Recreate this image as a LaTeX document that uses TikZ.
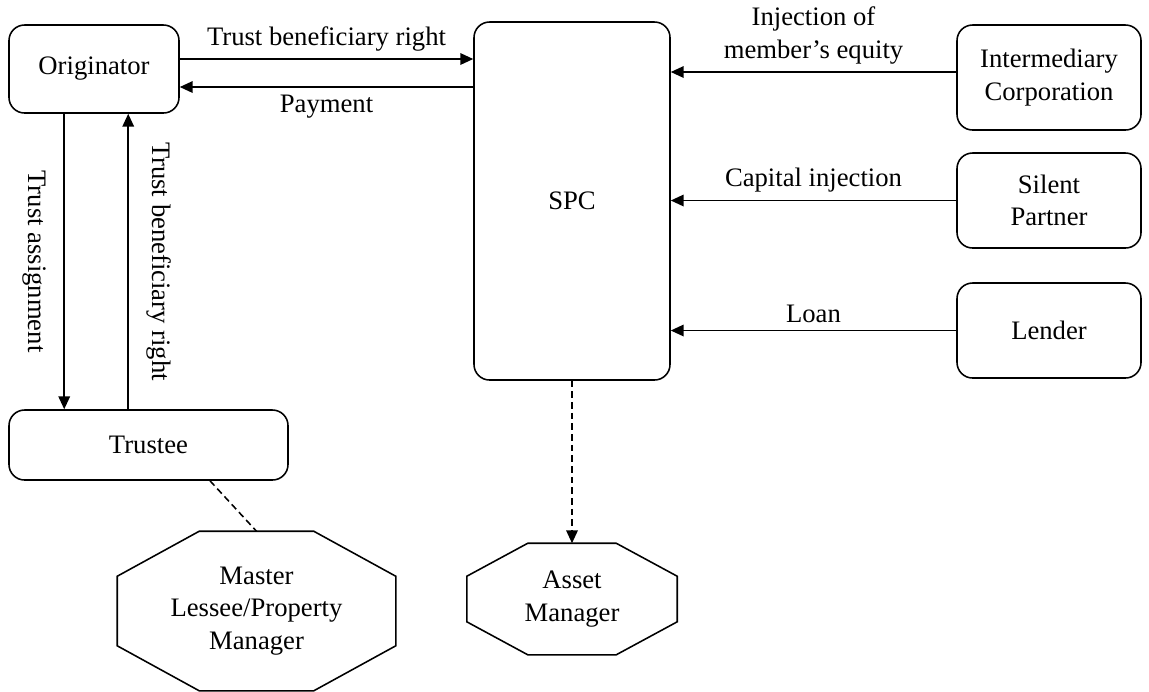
\documentclass[tikz,border=0pt]{standalone}
\usepackage{fontspec}
\setmainfont{Liberation Serif}
\usetikzlibrary{arrows.meta}
\usetikzlibrary{calc}

\begin{document}
\begin{tikzpicture}[x=0.45pt, y=-0.45pt, line width=0.7pt,
    font=\fontsize{12}{14.5}\selectfont,
    >={Triangle[length=5.8pt,width=5.2pt]},
    party/.style={draw, rounded corners=7pt, align=center, inner sep=0pt},
    octa/.style={align=center, inner sep=0pt},
    flow/.style={font=\fontsize{12}{14.5}\selectfont, align=center},
    sideflow/.style={flow, rotate=-90, inner sep=8pt},
    link/.style={dash pattern=on 3pt off 1.8pt}]

        \useasboundingbox (0, 0) rectangle (1149, 691);

        % Declare the parties
        \node[party, minimum width=76.5pt, minimum height=39.6pt] at (94, 69) (orig) {Originator};
        \node[party, minimum width=88.2pt, minimum height=161.1pt] at (572, 201) (spc) {SPC};
        \node[party, minimum width=82.8pt, minimum height=47.25pt] at (1049, 77.5) (inter) {Intermediary\\Corporation};
        \node[party, minimum width=82.8pt, minimum height=42.75pt] at (1049, 200.5) (silent) {Silent\\Partner};
        \node[party, minimum width=82.8pt, minimum height=42.75pt] at (1049, 330.5) (lender) {Lender};
        \node[party, minimum width=125.55pt, minimum height=31.5pt] at (148.5, 445) (trustee) {Trustee};

        % Declare the managers
        \node[octa, minimum width=124.65pt, minimum height=71.1pt] at (256.5, 611) (master) {Master\\Lessee/Property\\Manager};
        \node[octa, minimum width=94pt, minimum height=49.5pt] at (572, 599) (asset) {Asset\\Manager};

        % Octagon outlines
        \foreach \n/\cx/\cy in {master/82/45, asset/61/33} {
            \draw ($(\n.north west)+(\cx, 0)$) -- ($(\n.north east)+(-\cx, 0)$)
                -- ($(\n.north east)+(0, \cy)$) -- ($(\n.south east)+(0, -\cy)$)
                -- ($(\n.south east)+(-\cx, 0)$) -- ($(\n.south west)+(\cx, 0)$)
                -- ($(\n.south west)+(0, -\cy)$) -- ($(\n.north west)+(0, \cy)$) -- cycle;
        }

        % Declare anchor points
        \coordinate (o1) at ($(orig.east)+(0, -10)$);
        \coordinate (o2) at ($(orig.east)+(0, 18)$);
        \coordinate (i1) at ($(inter.west)+(0, -5.5)$);
        \coordinate (t1) at ($(orig.south west)+(56, 0)$);
        \coordinate (t2) at ($(orig.south west)+(120, 0)$);
        \coordinate (m1) at ($(trustee.south)+(61.5, 0)$);

        % Declare edges
        \draw[->] (o1) -- (o1 -| spc.west) node[midway, above, flow] {Trust beneficiary right};
        \draw[->] (o2 -| spc.west) -- (o2) node[midway, below, flow] {Payment};
        \draw[->] (i1) -- (i1 -| spc.east) node[midway, above, flow] {Injection of\\member's equity};
        \draw[->] (silent) -- (silent -| spc.east) node[midway, above, flow] {Capital injection};
        \draw[->] (lender) -- (lender -| spc.east) node[midway, above, flow] {Loan};
        \draw[->] (t1) -- (t1 |- trustee.north) node[midway, anchor=north, sideflow] {Trust assignment};
        \draw[->] (t2 |- trustee.north) -- (t2) node[midway, anchor=south, sideflow] {Trust beneficiary right};

        % Declare dashed edges
        \draw[->, link] (spc.south) -- (asset.north);
        \draw[link] (m1) -- (master.north);

    \end{tikzpicture}
\end{document}
